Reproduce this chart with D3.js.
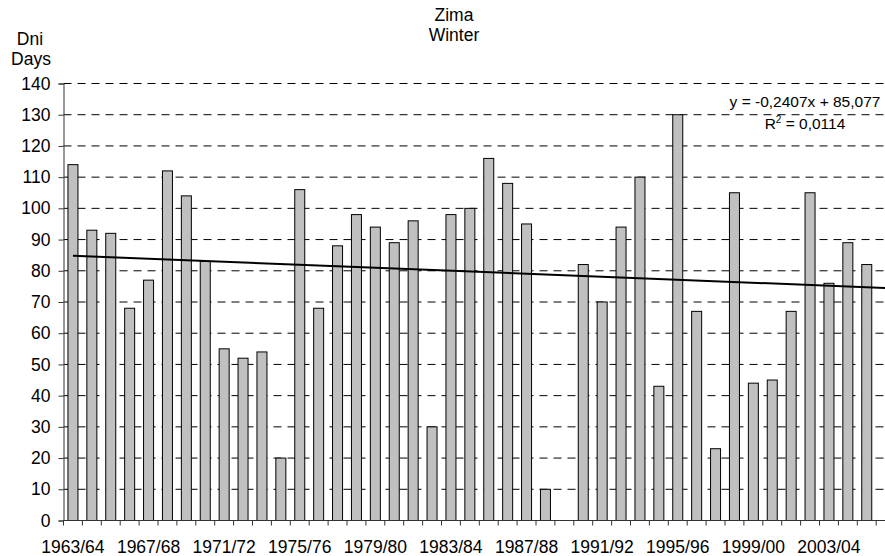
<!DOCTYPE html>
<html>
<head>
<meta charset="utf-8">
<script src="https://cdn.jsdelivr.net/npm/d3@7"></script>
<style>
  body { margin: 0; background: #fff; }
  text { font-family: Arial, "Liberation Sans", sans-serif; fill: #000; }
</style>
</head>
<body>
<div id="chart"></div>
<script>
// seasons on the x axis (the last one is cut off at the right edge)
var seasons = ["1963/64","1964/65","1965/66","1966/67","1967/68","1968/69","1969/70","1970/71",
               "1971/72","1972/73","1973/74","1974/75","1975/76","1976/77","1977/78","1978/79",
               "1979/80","1980/81","1981/82","1982/83","1983/84","1984/85","1985/86","1986/87",
               "1987/88","1988/89","1989/90","1990/91","1991/92","1992/93","1993/94","1994/95",
               "1995/96","1996/97","1997/98","1998/99","1999/00","2000/01","2001/02","2002/03",
               "2003/04","2004/05","2005/06","2006/07"]

// number of days per winter
var days = [114, 93, 92, 68, 77, 112, 104, 83, 55, 52, 54, 20, 106, 68, 88, 98, 94, 89, 96, 30,
            98, 100, 116, 108, 95, 10, null, 82, 70, 94, 110, 43, 130, 67, 23, 105, 44, 45, 67, 105,
            76, 89, 82, null]

var yTicks = [0, 10, 20, 30, 40, 50, 60, 70, 80, 90, 100, 110, 120, 130, 140]
var xLabels = ["1963/64","1967/68","1971/72","1975/76","1979/80","1983/84",
               "1987/88","1991/92","1995/96","1999/00","2003/04"]

// linear trend as printed on the chart
var trendSlope = -0.2407
var trendIntercept = 85.077
var trendLabel = "y = -0,2407x + 85,077"
var r2Value = "0,0114"

var width = 885
var height = 556
var left = 63.5
var step = 18.9
var fs = '17.5px'

var svg = d3.select('#chart').append('svg')
            .attr('width', width)
            .attr('height', height)

var x = d3.scaleBand()
          .domain(seasons)
          .range([left, left + step * seasons.length])
          .padding(0)

var y = d3.scaleLinear()
          .domain([0, 140])
          .range([520.5, 83.5])

var barW = 10
var right = left + step * seasons.length

// dashed gridlines
svg.append('g').selectAll('line')
   .data(yTicks.filter(function(d) { return d > 0 }))
   .enter().append('line')
   .attr('x1', left).attr('x2', right)
   .attr('y1', function(d) { return y(d) })
   .attr('y2', function(d) { return y(d) })
   .attr('stroke', '#000')
   .attr('stroke-width', 1)
   .attr('stroke-dasharray', '8,6')

// bars
svg.append('g').selectAll('rect')
   .data(seasons.map(function(s, i) { return {season: s, value: days[i]} })
                .filter(function(d) { return d.value != null }))
   .enter().append('rect')
   .attr('x', function(d) { return x(d.season) + (x.bandwidth() - barW) / 2 })
   .attr('y', function(d) { return y(d.value) })
   .attr('width', barW)
   .attr('height', function(d) { return y(0) - y(d.value) })
   .attr('fill', '#c0c0c0')
   .attr('stroke', '#000')
   .attr('stroke-width', 1)

// y axis
var yAxis = d3.axisLeft(y)
              .tickValues(yTicks)
              .tickSize(5)
              .tickPadding(8)
              .tickFormat(d3.format('d'))

var gy = svg.append('g')
            .attr('transform', 'translate(' + left + ',0)')
            .call(yAxis)
gy.select('.domain').attr('stroke', '#333')
gy.selectAll('.tick line').attr('stroke', '#333')
gy.selectAll('text').style('font-size', fs).attr('fill', '#000')

// x axis: ticks at band edges, labels every 4 seasons
var gx = svg.append('g')
            .attr('transform', 'translate(0,' + y(0) + ')')
gx.append('line')
  .attr('x1', left).attr('x2', right)
  .attr('stroke', '#333')
gx.selectAll('.xt')
  .data(seasons)
  .enter().append('line')
  .attr('class', 'xt')
  .attr('x1', function(d) { return x(d) })
  .attr('x2', function(d) { return x(d) })
  .attr('y1', 0).attr('y2', 5)
  .attr('stroke', '#333')
gx.selectAll('.xl')
  .data(xLabels)
  .enter().append('text')
  .attr('class', 'xl')
  .attr('x', function(d) { return x(d) + x.bandwidth() / 2 })
  .attr('y', 32.5)
  .attr('text-anchor', 'middle')
  .style('font-size', fs)
  .text(function(d) { return d })

// trend line through the category centres, x = 1 .. n
var n = seasons.length
var trendPts = [1, n].map(function(k) {
  return [x(seasons[k - 1]) + x.bandwidth() / 2, y(trendIntercept + trendSlope * k)]
})
svg.append('line')
   .attr('x1', trendPts[0][0]).attr('y1', trendPts[0][1])
   .attr('x2', trendPts[1][0]).attr('y2', trendPts[1][1])
   .attr('stroke', '#000')
   .attr('stroke-width', 2)

// equation
svg.append('text')
   .attr('x', 805).attr('y', 107)
   .attr('text-anchor', 'middle')
   .style('font-size', '15.5px')
   .text(trendLabel)
var r2 = svg.append('text')
            .attr('x', 805).attr('y', 128.5)
            .attr('text-anchor', 'middle')
            .style('font-size', '15.5px')
r2.append('tspan').text('R')
r2.append('tspan').attr('dy', -6).style('font-size', '10px').text('2')
r2.append('tspan').attr('dy', 6).text(' = ' + r2Value)

// titles
svg.append('text').attr('x', 454).attr('y', 21).attr('text-anchor', 'middle')
   .style('font-size', fs).text('Zima')
svg.append('text').attr('x', 454).attr('y', 41).attr('text-anchor', 'middle')
   .style('font-size', fs).text('Winter')
svg.append('text').attr('x', 30).attr('y', 45).attr('text-anchor', 'middle')
   .style('font-size', fs).text('Dni')
svg.append('text').attr('x', 31).attr('y', 65).attr('text-anchor', 'middle')
   .style('font-size', fs).text('Days')
</script>
</body>
</html>
